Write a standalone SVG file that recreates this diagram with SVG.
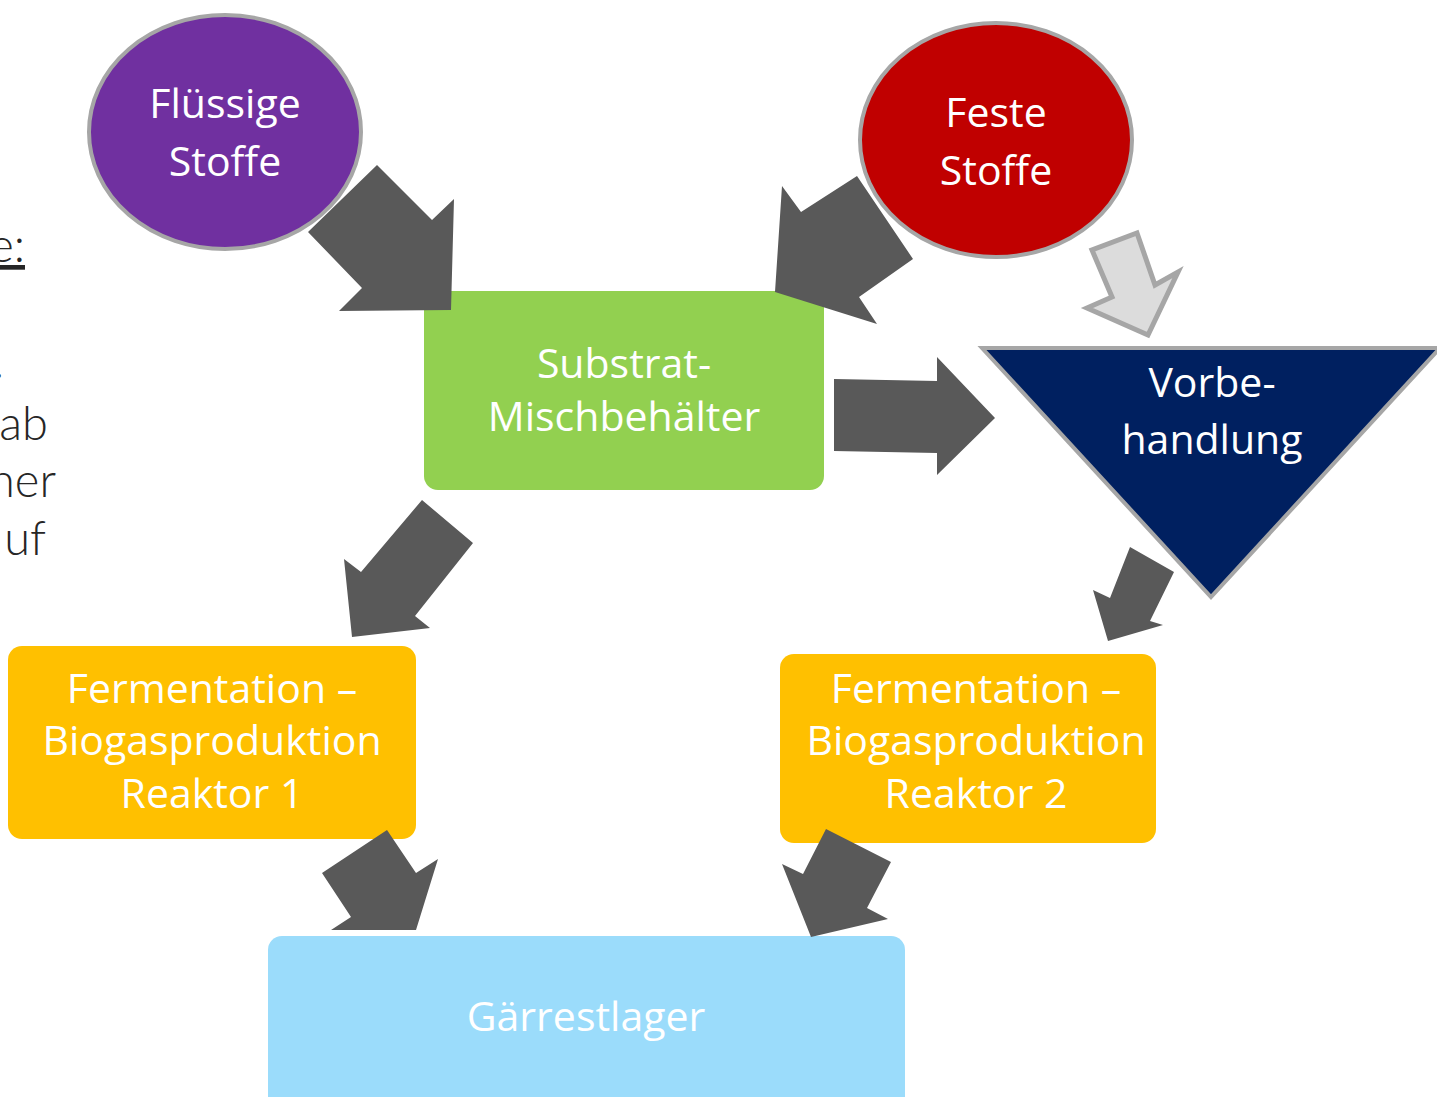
<svg xmlns="http://www.w3.org/2000/svg" width="1437" height="1097" viewBox="0 0 1437 1097">
<style>
.lbl{font-family:"Open Sans","Noto Sans","Liberation Sans",sans-serif;font-size:41px;fill:#ffffff;text-anchor:middle}
.side{font-family:Lato,"Open Sans","Liberation Sans",sans-serif;font-weight:300;font-size:47px;fill:#262626;text-anchor:end}
.arr{fill:#595959}
.circ{stroke:#a6a6a6;stroke-width:4}
</style>
<rect width="1437" height="1097" fill="#ffffff"/>
<g id="side-text">
<text class="side" x="25" y="262" text-decoration="underline">e:</text>
<text class="side" x="4" y="378">.</text>
<text class="side" x="48" y="440">ab</text>
<text class="side" x="56" y="497">ner</text>
<text class="side" x="46" y="555">uf</text>
</g>
<g id="fluessige">
<ellipse class="circ" cx="225" cy="132" rx="136" ry="117" fill="#7030a0"/>
<text class="lbl" x="225" y="118">Flüssige</text>
<text class="lbl" x="225" y="176">Stoffe</text>
</g>
<g id="feste">
<ellipse class="circ" cx="996" cy="140" rx="136" ry="117" fill="#c00000"/>
<text class="lbl" x="996" y="127">Feste</text>
<text class="lbl" x="996" y="185">Stoffe</text>
</g>
<g id="substrat">
<rect x="424" y="291" width="400" height="199" rx="14" fill="#92d050"/>
<text class="lbl" x="624" y="378">Substrat-</text>
<text class="lbl" x="624" y="431">Mischbehälter</text>
</g>
<g id="vorbehandlung">
<polygon points="982,348 1440,348 1211,597" fill="#002060" stroke="#a6a6a6" stroke-width="4"/>
<text class="lbl" x="1212" y="397">Vorbe-</text>
<text class="lbl" x="1212" y="454">handlung</text>
</g>
<g id="reaktor1">
<rect x="8" y="646" width="408" height="193" rx="14" fill="#ffc000"/>
<text class="lbl" x="212" y="703">Fermentation –</text>
<text class="lbl" x="212" y="755">Biogasproduktion</text>
<text class="lbl" x="212" y="808">Reaktor 1</text>
</g>
<g id="reaktor2">
<rect x="780" y="654" width="376" height="189" rx="14" fill="#ffc000"/>
<text class="lbl" x="976" y="703">Fermentation –</text>
<text class="lbl" x="976" y="755">Biogasproduktion</text>
<text class="lbl" x="976" y="808">Reaktor 2</text>
</g>
<g id="gaerrestlager">
<rect x="268" y="936" width="637" height="180" rx="14" fill="#9bdcfb"/>
<text class="lbl" x="586" y="1031">Gärrestlager</text>
</g>
<g id="connectors">
<polygon class="arr" points="377,165 432,220 454,199 451,310 339,311 362,288 308,232"/>
<polygon class="arr" points="857,176 913,259 859,297 877,324 775,292 782,186 801,212"/>
<polygon points="1137,233 1155,285 1178,272 1148,335 1087,308 1112,297 1092,250" fill="#dcdcdc" stroke="#a6a6a6" stroke-width="5" stroke-linejoin="miter"/>
<polygon class="arr" points="834,379 937,381 937,357 995,418 937,475 937,453 834,451"/>
<polygon class="arr" points="422,500 473,543 415,616 430,628 352,637 344,559 361,572"/>
<polygon class="arr" points="1130,547 1174,572 1150,621 1163,625 1108,641 1093,590 1110,598"/>
<polygon class="arr" points="387,830 416,873 438,859 416,930 331,930 351,917 322,873"/>
<polygon class="arr" points="826,829 891,862 867,908 888,919 811,937 782,864 803,874"/>
</g>
</svg>
